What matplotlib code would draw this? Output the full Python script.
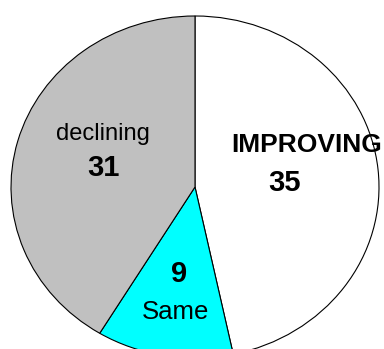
import matplotlib.pyplot as plt

# chart values
labels = ["IMPROVING", "Same", "declining"]
values = [35, 9, 31]
colors = ["#FFFFFF", "#00FFFF", "#C0C0C0"]

W, H = 384, 349
cx, cy = 195, 187      # pie centre in pixels (from top-left)
rx, ry = 184, 171      # horizontal / vertical radius in pixels

fig = plt.figure(figsize=(W / 100, H / 100), dpi=100)
ax = fig.add_axes([0, 0, 1, 1])
ax.pie(values, colors=colors, startangle=90, counterclock=False,
       wedgeprops=dict(edgecolor="black", linewidth=0.8))
ax.set_aspect("auto")
ax.set_xlim((0 - cx) / rx, (W - cx) / rx)
ax.set_ylim((cy - H) / ry, cy / ry)
ax.axis("off")

plt.rcParams["font.family"] = ["Liberation Sans", "DejaVu Sans"]


def px(x, y):
    return x / W, 1 - y / H


# (name position, number position, name style) per slice
spots = {
    "IMPROVING": ((307, 145), (285, 183), "bold", 19),
    "Same": ((176, 312), (179, 274), "normal", 18.5),
    "declining": ((103, 134), (103, 168), "normal", 17),
}
for lab, val in zip(labels, values):
    (nx, ny), (vx, vy), wt, fs = spots[lab]
    ax.text(*px(nx, ny), lab, transform=ax.transAxes, ha="center", va="center",
            fontsize=fs, fontweight=wt, family=["Liberation Sans", "DejaVu Sans"])
    ax.text(*px(vx, vy), str(val), transform=ax.transAxes, ha="center", va="center",
            fontsize=21, fontweight="bold", family=["Liberation Sans", "DejaVu Sans"])

fig.savefig("out.png", dpi=100)
